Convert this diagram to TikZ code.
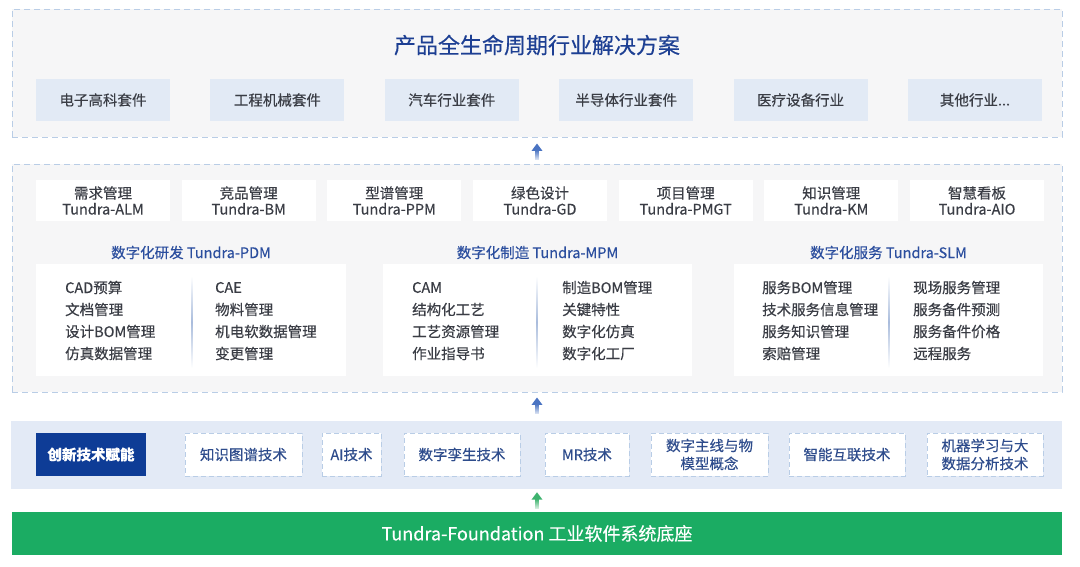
\documentclass[tikz,border=0pt]{standalone}
\usepackage{fontspec}
\setmainfont{Noto Sans CJK SC}[FakeBold=0.35]
\usetikzlibrary{arrows.meta,fadings}
\definecolor{panelfill}{HTML}{F6F6F7}
\definecolor{dashcol}{HTML}{B9CDE6}
\definecolor{indfill}{HTML}{E2EAF5}
\definecolor{titlecol}{HTML}{1D3F93}
\definecolor{seccol}{HTML}{2B4E9E}
\definecolor{txtcol}{HTML}{3A3D45}
\definecolor{techtxt}{HTML}{2E4C8C}
\definecolor{techband}{HTML}{E3EAF6}
\definecolor{innov}{HTML}{0E3C96}
\definecolor{greenband}{HTML}{1BAC63}
\definecolor{arrblue}{HTML}{4A73C2}
\definecolor{arrgreen}{HTML}{3DB36E}
\definecolor{divcol}{HTML}{A9BCDC}
\newcommand\myfs[2]{\fontsize{#1}{#2}\selectfont}
\tikzfading[name=fadeup, top color=transparent!100, bottom color=transparent!10]
\tikzset{
  panel/.style={draw=dashcol, line width=0.9pt, dash pattern=on 6pt off 4pt, fill=panelfill, inner sep=0pt, minimum width=1050pt},
  indbox/.style={fill=indfill, inner sep=0pt, minimum width=134pt, minimum height=42pt, text=txtcol, font=\myfs{14.5}{17}},
  modbox/.style={fill=white, inner sep=0pt, minimum width=134pt, minimum height=41pt, text=txtcol, align=center, font=\myfs{14.5}{16}},
  sectitle/.style={text=seccol, font=\myfs{14.5}{17}, inner sep=0pt},
  secbox/.style={fill=white, inner sep=0pt, minimum height=112pt},
  item/.style={anchor=west, text=txtcol, font=\myfs{14.5}{17}, inner sep=0pt},
  divider/.style={top color=white, bottom color=white, middle color=divcol},
  techbox/.style={draw=dashcol, line width=0.9pt, dash pattern=on 5pt off 3pt, fill=white, inner sep=0pt, minimum height=43pt, text=techtxt, align=center, font=\myfs{14.5}{18}},
  bluearr/.style={draw=arrblue, line width=4pt, -{Triangle[width=10.5pt,length=7.5pt]}},
  greenarr/.style={draw=arrgreen, line width=4pt, -{Triangle[width=10.5pt,length=7.5pt]}},
  shaftfade/.style={fill=white, path fading=fadeup},
}
\begin{document}
\begin{tikzpicture}[x=1pt,y=-1pt]
\useasboundingbox[fill=white] (0,0) rectangle (1080,566);
\coordinate (cx) at (537,0);
% top panel
\node[panel, minimum height=128pt] (top) at (537,73) {};
\node[text=titlecol, font=\myfs{22}{24}, inner sep=0pt] (title) at (537,45) {产品全生命周期行业解决方案};
\node[indbox] (i1) at (103,100) {电子高科套件};
\node[indbox] (i2) at (277.4,100) {工程机械套件};
\node[indbox] (i3) at (451.8,100) {汽车行业套件};
\node[indbox] (i4) at (626.2,100) {半导体行业套件};
\node[indbox] (i5) at (800.6,100) {医疗设备行业};
\node[indbox] (i6) at (975,100) {其他行业...};
% middle panel
\node[panel, minimum height=228pt] (mid) at (537,278) {};
\node[modbox] (m1) at (103,200.5) {需求管理\\Tundra-ALM};
\node[modbox] (m2) at (248.7,200.5) {竞品管理\\Tundra-BM};
\node[modbox] (m3) at (394.3,200.5) {型谱管理\\Tundra-PPM};
\node[modbox] (m4) at (540,200.5) {绿色设计\\Tundra-GD};
\node[modbox] (m5) at (685.7,200.5) {项目管理\\Tundra-PMGT};
\node[modbox] (m6) at (831.3,200.5) {知识管理\\Tundra-KM};
\node[modbox] (m7) at (977,200.5) {智慧看板\\Tundra-AIO};
\node[sectitle] (s1t) at (191,252.5) {数字化研发 Tundra-PDM};
\node[sectitle] (s2t) at (537.5,252.5) {数字化制造 Tundra-MPM};
\node[sectitle] (s3t) at (888.5,252.5) {数字化服务 Tundra-SLM};
\node[secbox, minimum width=310pt] (s1) at (191,320) {};
\node[secbox, minimum width=309pt] (s2) at (537.5,320) {};
\node[secbox, minimum width=309pt] (s3) at (888.5,320) {};
% PDM items
\node[item] (p1) at (65,287.5) {CAD预算};
\node[item] (p2) at (65,309.5) {文档管理};
\node[item] (p3) at (65,331.5) {设计BOM管理};
\node[item] (p4) at (65,353.5) {仿真数据管理};
\node[item] (p5) at (215,287.5) {CAE};
\node[item] (p6) at (215,309.5) {物料管理};
\node[item] (p7) at (215,331.5) {机电软数据管理};
\node[item] (p8) at (215,353.5) {变更管理};
\shade[divider] (191.6,276) rectangle (192.4,368);
% MPM items
\node[item] (q1) at (412,287.5) {CAM};
\node[item] (q2) at (412,309.5) {结构化工艺};
\node[item] (q3) at (412,331.5) {工艺资源管理};
\node[item] (q4) at (412,353.5) {作业指导书};
\node[item] (q5) at (562,287.5) {制造BOM管理};
\node[item] (q6) at (562,309.5) {关键特性};
\node[item] (q7) at (562,331.5) {数字化仿真};
\node[item] (q8) at (562,353.5) {数字化工厂};
\shade[divider] (536.6,276) rectangle (537.4,368);
% SLM items
\node[item] (r1) at (762,287.5) {服务BOM管理};
\node[item] (r2) at (762,309.5) {技术服务信息管理};
\node[item] (r3) at (762,331.5) {服务知识管理};
\node[item] (r4) at (762,353.5) {索赔管理};
\node[item] (r5) at (913,287.5) {现场服务管理};
\node[item] (r6) at (913,309.5) {服务备件预测};
\node[item] (r7) at (913,331.5) {服务备件价格};
\node[item] (r8) at (913,353.5) {远程服务};
\shade[divider] (888.6,276) rectangle (889.4,368);
% tech band
\node[fill=techband, inner sep=0pt, minimum width=1051pt, minimum height=68pt] (tech) at (536.5,455) {};
\node[fill=innov, inner sep=0pt, minimum width=110pt, minimum height=43pt, text=white, font=\myfs{14.5}{17}\bfseries] (inn) at (91,454.5) {创新技术赋能};
\node[techbox, minimum width=117pt] (t1) at (243.5,454.5) {知识图谱技术};
\node[techbox, minimum width=59pt] (t2) at (351.5,454.5) {AI技术};
\node[techbox, minimum width=116pt] (t3) at (462,454.5) {数字孪生技术};
\node[techbox, minimum width=84pt] (t4) at (587,454.5) {MR技术};
\node[techbox, minimum width=117pt] (t5) at (709.5,454.5) {数字主线与物\\模型概念};
\node[techbox, minimum width=116pt] (t6) at (847,454.5) {智能互联技术};
\node[techbox, minimum width=116pt] (t7) at (985,454.5) {机器学习与大\\数据分析技术};
% foundation
\node[fill=greenband, inner sep=0pt, minimum width=1050pt, minimum height=43pt, text=white, font=\myfs{18}{20}] (found) at (537,533.5) {Tundra-Foundation 工业软件系统底座};
% arrows
\draw[bluearr, shorten <=4pt, shorten >=6pt] (mid.north -| cx) -- (top.south -| cx);
\draw[bluearr, shorten <=7pt, shorten >=5pt] (tech.north -| cx) -- (mid.south -| cx);
\draw[greenarr, shorten <=3pt, shorten >=3pt] (found.north -| cx) -- (tech.south -| cx);
% fade of the arrow shafts towards their tails
\fill[shaftfade] (534,150) rectangle (540,160.5);
\fill[shaftfade] (534,404) rectangle (540,414.5);
\fill[shaftfade] (534,499) rectangle (540,509.5);
\end{tikzpicture}
\end{document}
